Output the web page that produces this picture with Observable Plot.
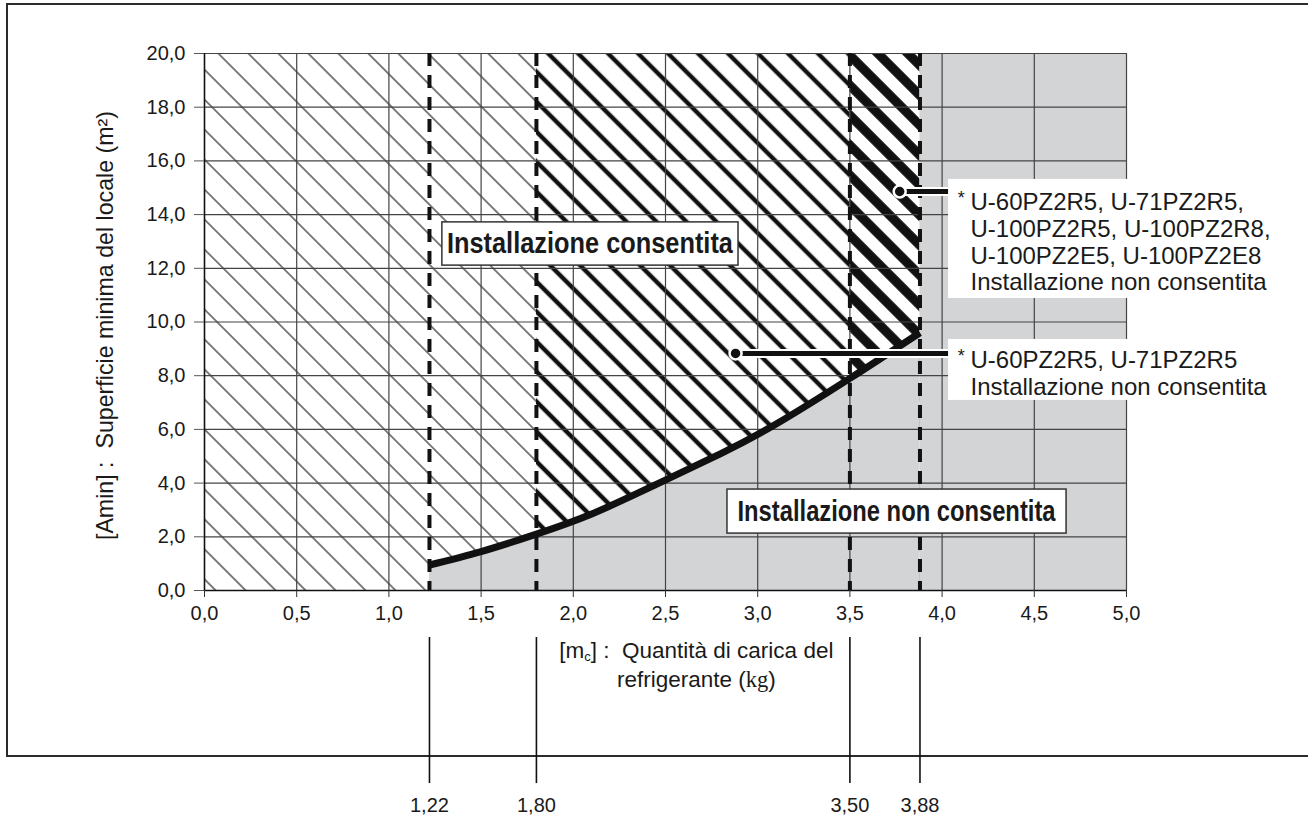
<!DOCTYPE html>
<html>
<head>
<meta charset="utf-8">
<script src="https://cdn.jsdelivr.net/npm/d3@7"></script>
<script src="https://cdn.jsdelivr.net/npm/@observablehq/plot@0.6"></script>
<style>
  html, body { margin: 0; padding: 0; background: #fff; }
  #wrap { position: relative; width: 1308px; height: 817px; overflow: hidden; }
  #frame { position: absolute; left: 6px; top: 3px; right: -4px; height: 750px;
           border-left: 2px solid #2b2b2b; border-top: 2px solid #2b2b2b; border-bottom: 2px solid #2b2b2b;
           pointer-events: none; }
  #chart { position: absolute; left: 0; top: 0; }
</style>
</head>
<body>
<div id="wrap"><div id="frame"></div><div id="chart"></div></div>
<script>
// ---------- data ----------
const xTicks = [0, 0.5, 1.0, 1.5, 2.0, 2.5, 3.0, 3.5, 4.0, 4.5, 5.0];
const yTicks = [0, 2, 4, 6, 8, 10, 12, 14, 16, 18, 20];
const limits = [1.22, 1.80, 3.50, 3.88];
const limitLabels = ["1,22", "1,80", "3,50", "3,88"];
// minimum room area curve
const curveX = [1.22, 1.5, 1.8, 2.1, 2.45, 2.8, 3.1, 3.5, 3.88];
const curveY = [0.95, 1.45, 2.1, 2.85, 3.95, 5.1, 6.2, 7.9, 9.6];
// zones
const zoneNames = ["thin", "mid", "thick", "grey"];
const zoneStart = [0, 1.80, 3.50, 3.88];
const zoneEnd = [1.80, 3.50, 3.88, 5.0];
// texts
const yTitle = "[Amin] :  Superficie minima del locale (m²)";
const okLabel = "Installazione consentita";
const notOkLabel = "Installazione non consentita";
const note1 = "U-60PZ2R5, U-71PZ2R5,\nU-100PZ2R5, U-100PZ2R8,\nU-100PZ2E5, U-100PZ2E8\nInstallazione non consentita";
const note2 = "U-60PZ2R5, U-71PZ2R5\nInstallazione non consentita";

const curve = curveX.map((x, i) => ({x, y: curveY[i]}));

// ---------- annotation anchors (data units) ----------
const okBox = {x1: 1.29, x2: 2.896, y1: 12.10, y2: 13.71};
const notOkBox = {x1: 2.836, x2: 4.675, y1: 2.12, y2: 3.76};
const noteBoxes = [{x1: 4.035, x2: 5.95, y1: 10.875, y2: 15.31}, {x1: 4.035, x2: 5.95, y1: 7.08, y2: 9.35}];
const leaders = [{x: 3.77, y: 14.86}, {x: 2.88, y: 8.83}];
const noteTextAt = [{x: 4.154, y: 14.86}, {x: 4.154, y: 8.99}];
const xTitleAt = {x: 2.67, y: -2.53};

const GREY = "#d3d4d6";
const INK = "#1a1a1a";
const SANS = "'Liberation Sans', Arial, Helvetica, sans-serif";
const fmt = d => d.toFixed(1).replace(".", ",");

const zoneFill = {thin: "url(#hatchThin)", mid: "url(#hatchMid)", thick: "url(#hatchThick)", grey: GREY};

function defs() {
  const d = d3.create("svg:defs");
  [["hatchThin", 1.1], ["hatchMid", 4.4], ["hatchThick", 9.4]].forEach(([id, w]) => {
    const s = 21.2;
    const p = d.append("pattern").attr("id", id).attr("patternUnits", "userSpaceOnUse")
      .attr("width", s).attr("height", s).attr("patternTransform", "rotate(-45)");
    p.append("rect").attr("width", s).attr("height", s).attr("fill", "white");
    p.append("line").attr("x1", s / 2).attr("x2", s / 2).attr("y1", -1).attr("y2", s + 1)
      .attr("stroke", "#111").attr("stroke-width", w);
  });
  return d.node();
}

// condensed bold label centred in a box
function boldLabel(box, label, size, length) {
  return (index, scales) => {
    const cx = (scales.x(box.x1) + scales.x(box.x2)) / 2;
    const cy = (scales.y(box.y1) + scales.y(box.y2)) / 2;
    return d3.create("svg:text")
      .attr("x", cx).attr("y", cy + 0.33 * size)
      .attr("text-anchor", "middle").attr("font-family", SANS).attr("font-weight", "bold")
      .attr("font-size", size).attr("fill", INK)
      .attr("textLength", length).attr("lengthAdjust", "spacingAndGlyphs")
      .text(label).node();
  };
}

function xTitle(index, scales) {
  const cx = scales.x(xTitleAt.x), cy = scales.y(xTitleAt.y);
  const g = d3.create("svg:g").attr("fill", INK).attr("text-anchor", "middle")
    .attr("font-size", 22.5).attr("font-family", SANS);
  const t1 = g.append("text").attr("x", cx).attr("y", cy);
  t1.append("tspan").text("[m");
  t1.append("tspan").attr("font-size", 13).attr("dy", 3).text("c");
  t1.append("tspan").attr("dy", -3).text("] :  Quantità di carica del");
  const t2 = g.append("text").attr("x", cx).attr("y", cy + 29);
  t2.append("tspan").text("refrigerante (");
  t2.append("tspan").attr("font-family", "'Liberation Serif', 'Times New Roman', serif").text("kg");
  t2.append("tspan").text(")");
  return g.node();
}

const chart = Plot.plot({
  width: 1308,
  height: 817,
  marginLeft: 204,
  marginRight: 182,
  marginTop: 53,
  marginBottom: 227,
  style: {background: "transparent", fontFamily: SANS, color: INK},
  x: {domain: [0, 5]},
  y: {domain: [0, 20]},
  marks: [
    defs,
    ...zoneNames.map((n, i) => Plot.rect([i], {x1: zoneStart[i], x2: zoneEnd[i], y1: 0, y2: 20, fill: zoneFill[n]})),
    Plot.areaY(curve, {x: "x", y1: 0, y2: "y", fill: GREY, curve: "natural"}),
    // grid
    Plot.ruleX(xTicks.filter(d => d > 0), {y1: 0, y2: 20, stroke: "#444", strokeWidth: 1.2}),
    Plot.ruleY(yTicks.filter(d => d > 0), {x1: 0, x2: 5, stroke: "#444", strokeWidth: 1.2}),
    Plot.ruleX([0], {y1: 0, y2: 20, stroke: "#111", strokeWidth: 1.6}),
    Plot.ruleY([0], {x1: 0, x2: 5, stroke: "#111", strokeWidth: 1.6}),
    // limit lines
    Plot.ruleX(limits, {y1: 20, y2: 0, stroke: "#111", strokeWidth: 4, strokeDasharray: "13,9"}),
    // curve
    Plot.line(curve, {x: "x", y: "y", stroke: "#111", strokeWidth: 7, curve: "natural", strokeLinecap: "butt"}),
    // labelled boxes
    Plot.rect([okBox, notOkBox], {x1: "x1", x2: "x2", y1: "y1", y2: "y2", fill: "white", stroke: "#333", strokeWidth: 1.5}),
    boldLabel(okBox, okLabel, 30, 286),
    boldLabel(notOkBox, notOkLabel, 29, 318),
    // notes
    Plot.rect(noteBoxes, {x1: "x1", x2: "x2", y1: "y1", y2: "y2", fill: "white"}),
    Plot.ruleY(leaders, {x1: "x", x2: noteBoxes[0].x1, y: "y", stroke: "white", strokeWidth: 9}),
    Plot.ruleY(leaders, {x1: "x", x2: noteBoxes[0].x1, y: "y", stroke: "#111", strokeWidth: 5}),
    Plot.dot(leaders, {x: "x", y: "y", r: 6, fill: "#111", stroke: "white", strokeWidth: 2.5}),
    Plot.text([note1, note2], {x: (d, i) => noteTextAt[i].x, y: (d, i) => noteTextAt[i].y, text: d => d,
      textAnchor: "start", lineAnchor: "top", lineHeight: 1.11, fontSize: 24, fill: INK}),
    Plot.text(["*", "*"], {x: (d, i) => noteTextAt[i].x - 0.05, y: (d, i) => noteTextAt[i].y, text: d => d,
      textAnchor: "middle", lineAnchor: "top", fontSize: 18, fill: INK}),
    // axes
    Plot.axisY(yTicks, {tickSize: 10, tickPadding: 9, fontSize: 20, tickFormat: fmt, stroke: "#555", fill: INK}),
    Plot.axisX(xTicks, {tickSize: 7, tickPadding: 8, fontSize: 20, tickFormat: fmt, stroke: "#333", fill: INK}),
    Plot.text([yTitle], {x: -0.539, y: 9.87, text: d => d, rotate: -90, fontSize: 23.2, fill: INK}),
    xTitle,
    // bottom reference lines
    Plot.ruleX(limits, {y1: -1.75, y2: -7.19, stroke: "#111", strokeWidth: 1.6}),
    Plot.text(limits, {x: d => d, y: -7.71, text: (d, i) => limitLabels[i], lineAnchor: "top", fontSize: 20, fill: INK})
  ]
});
document.getElementById("chart").appendChild(chart);
</script>
</body>
</html>
